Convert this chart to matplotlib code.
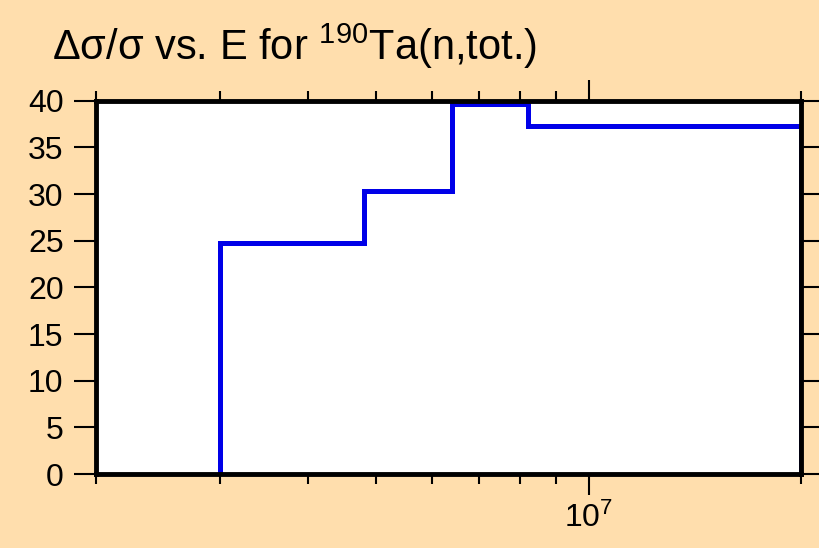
import matplotlib
matplotlib.use("Agg")
import matplotlib.pyplot as plt
from matplotlib.ticker import FixedLocator, NullFormatter, LogFormatterMathtext

plt.rcParams["font.family"] = ["Liberation Sans", "DejaVu Sans"]
plt.rcParams["mathtext.fontset"] = "custom"
plt.rcParams["mathtext.rm"] = "Liberation Sans"
plt.rcParams["mathtext.it"] = "Liberation Sans:italic"
plt.rcParams["mathtext.bf"] = "Liberation Sans:bold"

# energy bin edges (eV) and relative uncertainty (%) per bin
edges = [3.0e6, 4.8e6, 6.4e6, 8.2e6, 2.0e7]
rel_unc = [24.8, 30.3, 39.7, 37.3]

x_range = (2.0e6, 2.0e7)
y_range = (0, 40)
y_ticks = [0, 5, 10, 15, 20, 25, 30, 35, 40]
x_minor = [2e6, 3e6, 4e6, 5e6, 6e6, 7e6, 8e6, 9e6, 2e7]
x_major = [1e7]

title = r"Δσ/σ vs. E for $^{190}$Ta(n,tot.)"

BG = "#FFDEAD"


def main():
    fig = plt.figure(figsize=(8.2, 5.48), dpi=100, facecolor=BG)
    ax = fig.add_axes([0.1165, 0.135, 0.8605, 0.681])
    ax.set_facecolor("white")

    ax.stairs(rel_unc, edges, baseline=0, color="#0000e8", linewidth=3.6, zorder=3)

    ax.set_xscale("log")
    ax.set_xlim(*x_range)
    ax.set_ylim(*y_range)

    ax.xaxis.set_major_locator(FixedLocator(x_major))
    ax.xaxis.set_major_formatter(LogFormatterMathtext())
    ax.xaxis.set_minor_locator(FixedLocator(x_minor))
    ax.xaxis.set_minor_formatter(NullFormatter())
    ax.set_yticks(y_ticks)

    for s in ax.spines.values():
        s.set_linewidth(3.5)
        s.set_zorder(4)

    ax.tick_params(axis="both", which="both", direction="out", top=True, right=True,
                   labelsize=23, width=1.5, colors="black")
    ax.tick_params(axis="y", which="major", length=16, pad=7)
    ax.tick_params(axis="x", which="major", length=15, pad=6)
    ax.tick_params(axis="x", which="minor", length=7)

    fig.text(0.064, 0.8914, title, fontsize=30, ha="left", va="baseline")

    fig.savefig("out.png", dpi=100, facecolor=BG)
    plt.close(fig)


if __name__ == "__main__":
    main()
